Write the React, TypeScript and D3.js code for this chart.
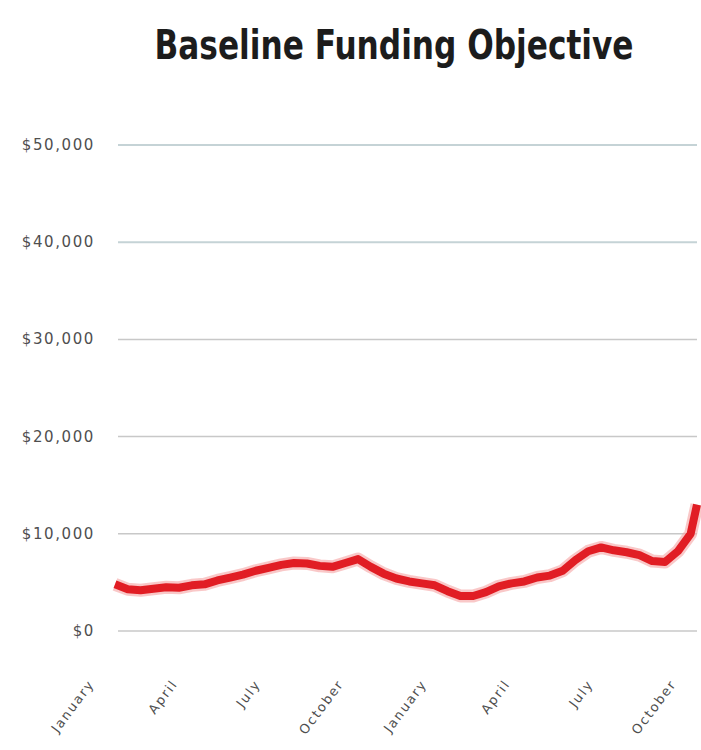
import React from "react";
import * as d3 from "d3";

const title = "Baseline Funding Objective";
const yTicks = [0, 10000, 20000, 30000, 40000, 50000];
const xTickWeeks = [0, 13, 26, 39, 52, 65, 78, 91];
const xTickLabels = ["January", "April", "July", "October", "January", "April", "July", "October"];

const weeks = [0, 2, 4, 6, 8, 10, 12, 14, 16, 18, 20, 22, 24, 26, 28, 30, 32, 34, 36, 38, 40, 42, 44, 46, 48, 50, 52, 54, 56, 58, 60, 62, 64, 66, 68, 70, 72, 74, 76, 78, 80, 82, 84, 86, 88, 90, 91];
const funding = [4800, 4300, 4200, 4350, 4500, 4450, 4700, 4800, 5200, 5500, 5800, 6200, 6500, 6800, 7000, 6950, 6700, 6600, 7000, 7400, 6600, 5900, 5400, 5100, 4900, 4700, 4100, 3600, 3600, 4000, 4600, 4900, 5100, 5500, 5700, 6200, 7300, 8200, 8600, 8300, 8100, 7800, 7200, 7100, 8200, 10000, 13000];

export default function App() {
  const W = 701, H = 750;
  const x = d3.scaleLinear().domain([0, 91]).range([115, 697]);
  const y = d3.scaleLinear().domain([0, 50000]).range([631, 145]);
  const fmt = (v: number) => "$" + d3.format(",")(v);
  const pts = weeks.map((w, i) => [w, funding[i]] as [number, number]);
  const line = d3.line<[number, number]>().x(d => x(d[0])).y(d => y(d[1]));
  const path = line(pts) || "";
  return (
    <svg width={W} height={H} style={{ position: "absolute", left: 0, top: 0, background: "#fff" }}>
      <text transform="translate(394,59) scale(0.78,1)" textAnchor="middle" fontFamily="'DejaVu Sans',sans-serif" fontWeight="bold" fontSize={40} fill="#1c1c1c">{title}</text>
      {yTicks.map(t => (
        <g key={t}>
          <line x1={118} x2={697} y1={y(t)} y2={y(t)} stroke={t >= 40000 ? "#c5d3d6" : "#c8c8c8"} strokeWidth={t >= 40000 ? 2 : 1.5} />
          <text x={95} y={y(t) + 5} textAnchor="end" fontFamily="'DejaVu Sans',sans-serif" fontSize={15} letterSpacing={1.6} fill="#4f4f4f">{fmt(t)}</text>
        </g>
      ))}
      {xTickWeeks.map((w, i) => (
        <text key={i} transform={`translate(${x(w) - 20},${684}) rotate(-53)`} textAnchor="end" fontFamily="'DejaVu Sans',sans-serif" fontSize={13} letterSpacing={1.8} fill="#4f4f4f">{xTickLabels[i]}</text>
      ))}
      <path d={path} fill="none" stroke="#f5a3a3" strokeOpacity={0.6} strokeWidth={13} strokeLinejoin="round" />
      <path d={path} fill="none" stroke="#e11d24" strokeWidth={8} strokeLinejoin="round" />
    </svg>
  );
}
